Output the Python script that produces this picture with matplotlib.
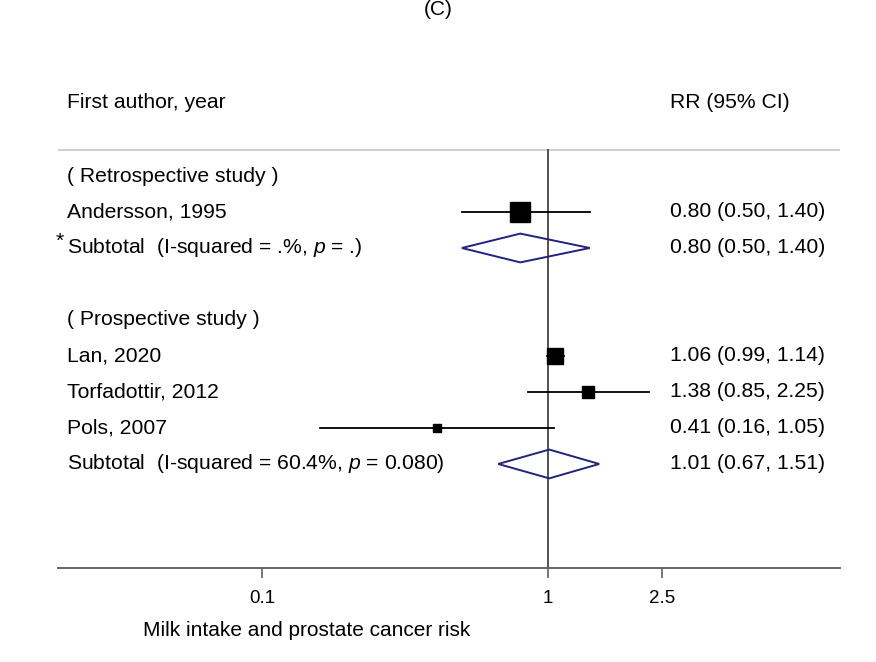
"""Forest plot: milk intake and prostate cancer risk (panel C)."""

import matplotlib.pyplot as plt
from matplotlib.patches import Polygon

plt.rcParams['font.family'] = ['Liberation Sans', 'DejaVu Sans']
plt.rcParams['mathtext.fontset'] = 'custom'
plt.rcParams['mathtext.rm'] = 'Liberation Sans'
plt.rcParams['mathtext.it'] = 'Liberation Sans:italic'

# Data
groups = ['( Retrospective study )', '( Prospective study )']
studies = ['Andersson, 1995', 'Lan, 2020', 'Torfadottir, 2012', 'Pols, 2007']
study_group = [0, 1, 1, 1]
rr = [0.80, 1.06, 1.38, 0.41]
lo = [0.50, 0.99, 0.85, 0.16]
hi = [1.40, 1.14, 2.25, 1.05]
sub_labels = ['Subtotal  (I-squared = .%, $p$ = .)',
              'Subtotal  (I-squared = 60.4%, $p$ = 0.080)']
sub_rr = [0.80, 1.01]
sub_lo = [0.50, 0.67]
sub_hi = [1.40, 1.51]
xticks = [0.1, 1, 2.5]
xtick_labels = ['0.1', '1', '2.5']

# Style
box_sizes = [14.5, 11.5, 8.5, 5.8]
navy = '#23237f'
fs = 15.2
W, H = 876, 662

fig = plt.figure(figsize=(W / 100, H / 100), dpi=100)
# axes spans pixel x 58..840, y 80..568
ax = fig.add_axes([58 / W, 1 - 568 / H, (840 - 58) / W, (568 - 80) / H])
ax.set_xscale('log')
ax.set_xlim(10 ** (-490 / 286), 10 ** (292 / 286))
ax.set_ylim(10.89, -2.667)
tr = ax.get_yaxis_transform()

y = 0
for g in range(len(groups)):
    ax.text(0.011, y, groups[g], transform=tr, fontsize=fs, va='center')
    y += 1
    for i in range(len(studies)):
        if study_group[i] != g:
            continue
        ax.text(0.011, y, studies[i], transform=tr, fontsize=fs, va='center')
        ax.plot([lo[i], hi[i]], [y, y], color='black', lw=1.3, zorder=3)
        ax.plot(rr[i], y, marker='s', color='black', ms=box_sizes[i], zorder=4)
        ax.text(0.782, y, f'{rr[i]:.2f} ({lo[i]:.2f}, {hi[i]:.2f})',
                transform=tr, fontsize=fs, va='center')
        y += 1
    ax.text(0.011, y, sub_labels[g], transform=tr, fontsize=fs, va='center')
    diamond = Polygon([[sub_lo[g], y], [sub_rr[g], y - 0.4],
                       [sub_hi[g], y], [sub_rr[g], y + 0.4]],
                      closed=True, fill=False, edgecolor=navy, lw=1.4, zorder=4)
    ax.add_patch(diamond)
    ax.text(0.782, y, f'{sub_rr[g]:.2f} ({sub_lo[g]:.2f}, {sub_hi[g]:.2f})',
            transform=tr, fontsize=fs, va='center')
    y += 2

# asterisk on first subtotal
ax.text(-0.003, 1.82, '*', transform=tr, fontsize=fs, va='center')

# header
ax.text(0.011, -2.03, 'First author, year', transform=tr, fontsize=fs,
        va='center')
ax.text(0.782, -2.03, 'RR (95% CI)', transform=tr, fontsize=fs, va='center')
ax.axhline(-0.72, color='#cfcfcf', lw=1.4)

# null line
ax.plot([1, 1], [-0.72, 10.89], color='#444444', lw=1.3, zorder=2)

for s in ['top', 'right', 'left']:
    ax.spines[s].set_visible(False)
ax.spines['bottom'].set_color('#666666')
ax.spines['bottom'].set_linewidth(1.4)
ax.set_yticks([])
ax.set_xticks(xticks)
ax.set_xticklabels(xtick_labels, fontsize=13.5)
ax.minorticks_off()
ax.tick_params(axis='x', length=7, width=1.1, color='#555555', pad=9)

fig.text(307 / W, 1 - 630 / H, 'Milk intake and prostate cancer risk',
         fontsize=15, ha='center', va='center')
fig.text(438 / W, 1.0, '(C)', fontsize=15, ha='center', va='top')

fig.savefig('out.png', dpi=100)
